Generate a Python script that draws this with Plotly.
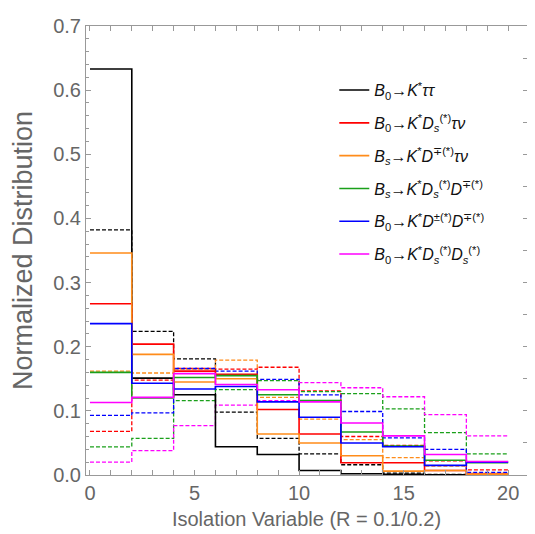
import plotly.graph_objects as go

bin_edges = [0, 2, 4, 6, 8, 10, 12, 14, 16, 18, 20]

labels = [
    "<i>B</i><sub>0</sub>→<i>K</i><sup>*</sup><i>ττ</i>",
    "<i>B</i><sub>0</sub>→<i>K</i><sup>*</sup><i>D</i><sub><i>s</i></sub><sup>(*)</sup><i>τν</i>",
    "<i>B</i><sub><i>s</i></sub>→<i>K</i><sup>*</sup><i>D</i><sup>∓(*)</sup><i>τν</i>",
    "<i>B</i><sub><i>s</i></sub>→<i>K</i><sup>*</sup><i>D</i><sub><i>s</i></sub><sup>(*)</sup><i>D</i><sup>∓(*)</sup>",
    "<i>B</i><sub>0</sub>→<i>K</i><sup>*</sup><i>D</i><sup>±(*)</sup><i>D</i><sup>∓(*)</sup>",
    "<i>B</i><sub>0</sub>→<i>K</i><sup>*</sup><i>D</i><sub><i>s</i></sub><sup>(*)</sup><i>D</i><sub><i>s</i></sub><sup>(*)</sup>",
]
colors = ["#000000", "#ff0000", "#ff8c1a", "#1aa01a", "#0000ff", "#ff00ff"]

# R = 0.1 (solid)
ktt_r1 = [0.633, 0.151, 0.125, 0.044, 0.032, 0.007, 0.002, 0.001, 0.0005, 0.0003]
kdstn_r1 = [0.267, 0.204, 0.162, 0.157, 0.102, 0.064, 0.019, 0.019, 0.007, 0.001]
bs_kdtn_r1 = [0.346, 0.188, 0.145, 0.150, 0.064, 0.050, 0.030, 0.006, 0.007, 0.001]
bs_kdsd_r1 = [0.160, 0.120, 0.152, 0.155, 0.125, 0.116, 0.067, 0.045, 0.023, 0.019]
kdd_r1 = [0.236, 0.143, 0.134, 0.138, 0.114, 0.090, 0.050, 0.044, 0.015, 0.020]
kdsds_r1 = [0.113, 0.121, 0.158, 0.141, 0.133, 0.114, 0.081, 0.061, 0.032, 0.021]

# R = 0.2 (dashed)
ktt_r2 = [0.382, 0.224, 0.181, 0.098, 0.057, 0.033, 0.016, 0.003, 0.001, 0.001]
kdstn_r2 = [0.068, 0.148, 0.166, 0.165, 0.168, 0.131, 0.060, 0.046, 0.022, 0.008]
bs_kdtn_r2 = [0.162, 0.159, 0.165, 0.179, 0.121, 0.087, 0.055, 0.027, 0.014, 0.003]
bs_kdsd_r2 = [0.044, 0.057, 0.116, 0.133, 0.147, 0.130, 0.127, 0.103, 0.066, 0.033]
kdd_r2 = [0.093, 0.097, 0.166, 0.162, 0.149, 0.125, 0.099, 0.058, 0.040, 0.004]
kdsds_r2 = [0.020, 0.038, 0.077, 0.109, 0.116, 0.144, 0.136, 0.122, 0.094, 0.061]

solid = [ktt_r1, kdstn_r1, bs_kdtn_r1, bs_kdsd_r1, kdd_r1, kdsds_r1]
dashed = [ktt_r2, kdstn_r2, bs_kdtn_r2, bs_kdsd_r2, kdd_r2, kdsds_r2]

fig = go.Figure()

for i in range(6):
    vals = dashed[i]
    fig.add_trace(go.Scatter(
        x=bin_edges, y=vals + [vals[-1]], mode="lines", line_shape="hv",
        line=dict(color=colors[i], width=1.3, dash="4px,2px"),
        legendgroup=str(i), showlegend=False, hoverinfo="skip"))

for i in range(6):
    vals = solid[i]
    fig.add_trace(go.Scatter(
        x=bin_edges, y=vals + [vals[-1]], mode="lines", line_shape="hv",
        line=dict(color=colors[i], width=1.6),
        name=labels[i], legendgroup=str(i)))

# invisible trace to hold right-side tick axis
fig.add_trace(go.Scatter(x=[], y=[], yaxis="y2", showlegend=False, hoverinfo="skip"))

axis_color = "#999999"
text_color = "#666666"
font_family = "Liberation Sans, Arial, sans-serif"

fig.update_layout(
    width=535, height=534,
    margin=dict(l=78, r=16, t=18, b=67, autoexpand=False),
    paper_bgcolor="white", plot_bgcolor="white",
    font=dict(family=font_family, color=text_color, size=20),
    showlegend=True,
    legend=dict(x=0.563, y=0.895, xanchor="left", yanchor="top",
                bgcolor="rgba(0,0,0,0)", font=dict(size=16, color="#111111"),
                itemwidth=30, tracegroupgap=9),
    xaxis=dict(range=[-0.19, 20.9], tickvals=[0, 5, 10, 15, 20],
               ticks="inside", ticklen=5, tickcolor=axis_color, automargin=False,
               minor=dict(dtick=1, ticks="inside", ticklen=3, tickcolor=axis_color),
               showline=True, linecolor=axis_color, linewidth=1, mirror="allticks",
               showgrid=False, zeroline=False,
               title=dict(text="Isolation Variable (R = 0.1/0.2)", font=dict(size=20, color=text_color), standoff=8),
               tickfont=dict(size=20, color=text_color)),
    yaxis=dict(range=[0, 0.7], dtick=0.1, tick0=0, tickformat=".1f",
               ticks="inside", ticklen=5, tickcolor=axis_color, automargin=False,
               minor=dict(dtick=0.02, ticks="inside", ticklen=3, tickcolor=axis_color),
               showline=True, linecolor=axis_color, linewidth=1, mirror=True,
               showgrid=False, zeroline=False,
               title=dict(text="Normalized Distribution", font=dict(size=27, color=text_color), standoff=20),
               tickfont=dict(size=20, color=text_color)),
    yaxis2=dict(range=[0, 0.7], overlaying="y", side="right", dtick=0.05, tick0=0,
                ticks="inside", ticklen=4, tickcolor=axis_color, showticklabels=False,
                automargin=False, showgrid=False, zeroline=False, showline=False),
)

fig.write_html("out.html")
